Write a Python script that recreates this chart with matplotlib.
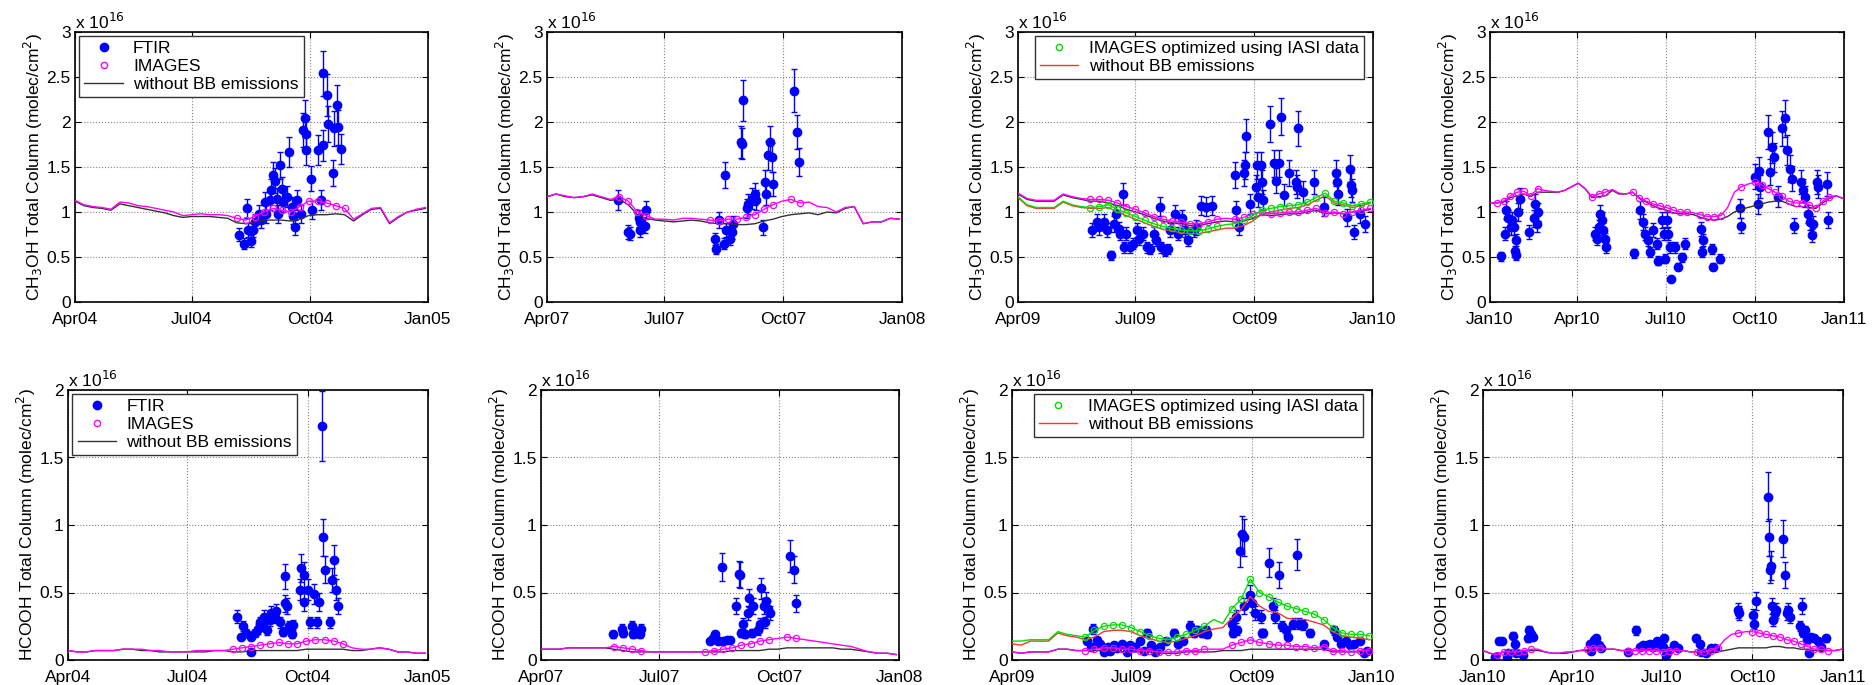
import numpy as np
import matplotlib
matplotlib.use('Agg')
import matplotlib.pyplot as plt
import matplotlib.dates as mdates
from matplotlib.lines import Line2D

plt.rcParams['font.family'] = ['Liberation Sans', 'DejaVu Sans']

# model output every 7 days from the start of each window, units of 1e16 molec/cm2
model_step = 7

# ---------------- CH3OH ----------------
ch3oh_04_day = [128, 132, 134, 135, 137, 139, 140, 143, 145, 148, 149, 152, 153, 154, 156,
                157, 158, 160, 161, 162, 165, 167, 169, 170, 171, 173, 176, 178, 179, 180,
                180, 184, 185, 189, 192, 193, 193, 196, 197, 201, 202, 204, 205, 207]
ch3oh_04_val = [0.75, 0.65, 1.04, 0.80, 0.68, 0.80, 0.89, 0.98, 0.91, 1.11, 0.98, 1.13, 1.24, 1.41, 1.35,
                1.15, 0.98, 1.52, 1.26, 1.11, 1.17, 1.67, 1.06, 0.96, 0.83, 1.13, 0.98, 1.91, 2.04, 1.87,
                1.69, 1.37, 1.02, 1.69, 1.13, 1.74, 2.54, 2.30, 1.98, 1.43, 1.93, 2.19, 1.94, 1.70]
ch3oh_04_images = [1.13, 1.08, 1.06, 1.05, 1.03, 1.11, 1.10, 1.07, 1.06, 1.04,
                   1.02, 1.00, 0.96, 0.97, 0.98, 0.97, 0.97, 0.96, 0.93, 0.91,
                   0.95, 1.00, 1.04, 1.02, 1.00, 1.06, 1.12, 1.12, 1.10, 1.07,
                   1.04, 0.92, 0.98, 1.04, 1.05, 0.88, 0.95, 1.00, 1.03, 1.05]
ch3oh_04_nobb = [1.12, 1.07, 1.05, 1.04, 1.02, 1.09, 1.07, 1.05, 1.03, 1.01,
                 0.99, 0.96, 0.94, 0.95, 0.95, 0.95, 0.94, 0.93, 0.88, 0.87,
                 0.89, 0.91, 0.91, 0.91, 0.90, 0.92, 0.96, 0.97, 0.97, 0.98,
                 0.97, 0.90, 0.97, 1.03, 1.04, 0.87, 0.94, 1.00, 1.02, 1.04]

ch3oh_07_day = [55, 63, 64, 71, 72, 72, 76, 77, 130, 131, 133, 137, 138, 139, 142, 143, 144,
                150, 151, 152, 155, 156, 159, 161, 162, 167, 169, 170, 171, 173, 174, 175,
                191, 194, 195]
ch3oh_07_val = [1.13, 0.78, 0.76, 0.93, 0.80, 0.89, 0.85, 1.02, 0.70, 0.59, 0.91, 0.65, 1.41, 0.80, 0.70, 0.78, 0.87,
                1.78, 1.76, 2.24, 1.04, 1.09, 1.15, 1.20, 1.13, 0.83, 1.33, 1.20, 1.63, 1.78, 1.61, 1.31,
                2.35, 1.89, 1.56]
ch3oh_07_images = [1.17, 1.20, 1.18, 1.16, 1.17, 1.20, 1.17, 1.14, 1.17, 1.12,
                   1.00, 0.96, 0.92, 0.92, 0.91, 0.93, 0.93, 0.92, 0.91, 0.90,
                   0.92, 0.92, 0.94, 0.97, 1.03, 1.08, 1.12, 1.14, 1.10, 1.11,
                   1.06, 1.05, 1.00, 1.05, 1.06, 0.87, 0.89, 0.89, 0.93, 0.92]
ch3oh_07_nobb = [1.17, 1.20, 1.17, 1.16, 1.17, 1.19, 1.16, 1.13, 1.14, 1.08,
                 0.97, 0.93, 0.91, 0.90, 0.89, 0.90, 0.91, 0.90, 0.88, 0.87,
                 0.87, 0.86, 0.86, 0.87, 0.90, 0.92, 0.95, 0.97, 0.98, 0.99,
                 0.97, 1.00, 0.99, 1.04, 1.06, 0.87, 0.89, 0.89, 0.93, 0.92]

ch3oh_09_day = [57, 61, 63, 67, 69, 72, 74, 76, 78, 79, 81, 82, 84, 87, 89, 92, 94, 97, 100, 102,
                105, 107, 110, 111, 114, 116, 118, 122, 124, 127, 129, 132, 136, 138, 142, 146, 150,
                168, 169, 171, 175, 176, 177, 180, 184, 185, 186, 188, 189, 190, 195, 198, 200, 202,
                204, 206, 210, 215, 216, 217, 221, 229, 237, 246, 247, 248, 255, 257, 258, 259, 260,
                265, 269]
ch3oh_09_val = [0.80, 0.89, 0.83, 0.89, 0.80, 0.52, 0.87, 0.98, 0.81, 0.76, 1.20, 0.61, 0.76, 0.61, 0.65, 0.80, 0.70, 0.76, 0.61, 0.59,
                0.76, 0.69, 1.06, 0.61, 0.57, 0.59, 0.80, 0.98, 0.76, 0.93, 0.80, 0.69, 0.80, 0.83, 1.07, 1.06, 1.07,
                1.41, 1.02, 0.83, 1.43, 1.52, 1.85, 1.09, 1.28, 1.52, 1.17, 1.52, 1.33, 1.13, 1.98, 1.54, 1.35, 1.54,
                2.06, 1.19, 1.43, 1.33, 1.28, 1.93, 1.22, 1.33, 1.06, 1.43, 1.33, 1.20, 0.94, 1.48, 1.30, 1.24, 0.78,
                0.98, 0.87]
ch3oh_09_images = [1.21, 1.15, 1.13, 1.13, 1.13, 1.20, 1.17, 1.15, 1.14, 1.14,
                   1.13, 1.10, 1.06, 1.03, 0.99, 0.95, 0.92, 0.90, 0.89, 0.87,
                   0.87, 0.89, 0.92, 0.93, 0.92, 0.94, 0.98, 1.00, 0.98, 0.99,
                   1.00, 1.00, 1.02, 1.04, 0.99, 1.00, 0.98, 1.00, 1.02, 1.04]
ch3oh_09_nobb = [1.20, 1.14, 1.12, 1.12, 1.12, 1.19, 1.16, 1.14, 1.12, 1.12,
                 1.10, 1.07, 1.03, 1.00, 0.97, 0.93, 0.90, 0.88, 0.87, 0.85,
                 0.85, 0.87, 0.89, 0.90, 0.89, 0.90, 0.93, 0.97, 0.96, 0.97,
                 0.98, 0.98, 1.00, 1.02, 0.98, 0.99, 0.98, 1.00, 1.01, 1.03]
ch3oh_09_opt = [1.17, 1.08, 1.05, 1.05, 1.05, 1.12, 1.08, 1.06, 1.05, 1.06,
                1.08, 1.03, 0.99, 0.95, 0.91, 0.87, 0.84, 0.82, 0.80, 0.79,
                0.79, 0.81, 0.84, 0.86, 0.87, 0.91, 0.96, 1.02, 1.04, 1.06,
                1.07, 1.08, 1.11, 1.16, 1.21, 1.12, 1.10, 1.07, 1.09, 1.11]
ch3oh_09_opt_nobb = [1.16, 1.07, 1.04, 1.04, 1.04, 1.11, 1.07, 1.05, 1.04, 1.04,
                     1.05, 1.00, 0.96, 0.92, 0.88, 0.84, 0.81, 0.79, 0.77, 0.76,
                     0.76, 0.78, 0.80, 0.82, 0.82, 0.85, 0.90, 0.98, 1.00, 1.02,
                     1.04, 1.05, 1.08, 1.13, 1.18, 1.10, 1.08, 1.05, 1.07, 1.10]

ch3oh_10_day = [11, 15, 17, 19, 22, 23, 25, 26, 27, 27, 29, 31, 40, 45, 46, 48, 50,
                108, 110, 112, 113, 115, 117, 119, 120, 148, 155, 158, 160, 163, 165, 168, 172,
                173, 177, 179, 180, 182, 184, 186, 187, 191, 194, 198, 201, 218, 219, 220, 229,
                230, 237, 258, 259, 273, 277, 276, 278, 287, 289, 291, 293, 297, 301, 304, 306,
                309, 311, 313, 321, 323, 325, 328, 330, 332, 333, 337, 338, 347, 348]
ch3oh_10_val = [0.51, 0.76, 1.02, 0.93, 0.83, 0.91, 0.83, 0.57, 0.52, 0.69, 1.00, 1.15, 0.78, 0.93, 1.09, 0.87, 1.00,
                0.76, 0.70, 0.83, 0.98, 0.91, 0.80, 0.70, 0.61, 0.54, 1.02, 0.89, 0.76, 0.69, 0.56, 0.80, 0.65,
                0.46, 0.91, 0.76, 0.48, 0.91, 0.76, 0.61, 0.26, 0.61, 0.39, 0.50, 0.65, 0.81, 0.56, 0.69, 0.59,
                0.39, 0.48, 1.04, 0.85, 1.39, 1.46, 1.09, 1.28, 1.89, 1.44, 1.72, 1.61, 1.17, 1.93, 2.04, 1.69,
                1.48, 1.37, 0.85, 1.33, 1.24, 1.17, 0.98, 0.89, 0.74, 0.87, 1.33, 1.28, 1.31, 0.91]
ch3oh_10_images = [1.10, 1.10, 1.12, 1.18, 1.22, 1.23, 1.18, 1.26, 1.24, 1.23,
                   1.22, 1.24, 1.28, 1.32, 1.26, 1.17, 1.20, 1.22, 1.25, 1.21,
                   1.20, 1.22, 1.16, 1.12, 1.09, 1.07, 1.05, 1.02, 1.00, 1.00,
                   0.99, 0.97, 0.95, 0.95, 0.96, 1.05, 1.22, 1.28, 1.31, 1.33,
                   1.30, 1.26, 1.22, 1.18, 1.12, 1.10, 1.10, 1.08, 1.05, 1.12,
                   1.17, 1.18, 1.15]
ch3oh_10_nobb = [1.10, 1.10, 1.11, 1.16, 1.18, 1.20, 1.17, 1.22, 1.22, 1.22,
                 1.22, 1.24, 1.28, 1.32, 1.26, 1.16, 1.17, 1.18, 1.24, 1.20,
                 1.20, 1.22, 1.15, 1.11, 1.07, 1.04, 1.02, 0.99, 0.98, 0.98,
                 0.97, 0.94, 0.92, 0.91, 0.92, 0.95, 1.00, 1.03, 1.05, 1.07,
                 1.09, 1.11, 1.12, 1.12, 1.09, 1.06, 1.06, 1.05, 1.04, 1.10,
                 1.15, 1.18, 1.15]

# ---------------- HCOOH ----------------
hcooh_04_day = [129, 132, 134, 136, 140, 140, 143, 145, 147, 149, 150, 152, 154, 155, 158, 159,
                162, 164, 166, 166, 167, 169, 171, 172, 177, 178, 180, 180, 183, 185, 188, 190,
                192, 194, 195, 196, 200, 202, 203, 205, 206]
hcooh_04_val = [0.32, 0.17, 0.25, 0.20, 0.06, 0.17, 0.20, 0.23, 0.28, 0.26, 0.32, 0.22, 0.30, 0.35, 0.32, 0.36,
                0.28, 0.21, 0.42, 0.62, 0.40, 0.25, 0.19, 0.26, 0.52, 0.68, 0.43, 0.63, 0.52, 0.28, 0.49, 0.28,
                0.43, 1.73, 0.91, 0.67, 0.28, 0.59, 0.74, 0.52, 0.40]
hcooh_04_images = [0.07, 0.06, 0.06, 0.07, 0.07, 0.07, 0.08, 0.08, 0.08, 0.07,
                   0.07, 0.06, 0.06, 0.06, 0.07, 0.07, 0.07, 0.07, 0.08, 0.09,
                   0.10, 0.11, 0.12, 0.13, 0.12, 0.12, 0.14, 0.15, 0.15, 0.14,
                   0.12, 0.09, 0.08, 0.08, 0.09, 0.08, 0.06, 0.06, 0.05, 0.05]
hcooh_04_nobb = [0.07, 0.06, 0.06, 0.07, 0.07, 0.07, 0.08, 0.08, 0.07, 0.07,
                 0.06, 0.06, 0.06, 0.06, 0.06, 0.06, 0.07, 0.07, 0.06, 0.06,
                 0.07, 0.07, 0.07, 0.07, 0.07, 0.07, 0.08, 0.08, 0.08, 0.08,
                 0.08, 0.07, 0.07, 0.08, 0.09, 0.08, 0.06, 0.06, 0.05, 0.05]

hcooh_07_day = [55, 62, 63, 70, 71, 73, 76, 77, 130, 132, 134, 135, 136, 139, 140, 143, 145,
                150, 152, 153, 154, 155, 157, 159, 160, 162, 163, 167, 168, 169, 171, 172, 173,
                174, 176, 191, 194, 196]
hcooh_07_val = [0.19, 0.23, 0.20, 0.25, 0.19, 0.20, 0.19, 0.23, 0.14, 0.16, 0.19, 0.15, 0.14, 0.69, 0.14, 0.15, 0.15,
                0.40, 0.64, 0.63, 0.20, 0.27, 0.19, 0.35, 0.46, 0.20, 0.40, 0.22, 0.27, 0.53, 0.40, 0.28, 0.44,
                0.38, 0.35, 0.77, 0.67, 0.42]
hcooh_07_images = [0.08, 0.08, 0.08, 0.09, 0.09, 0.09, 0.09, 0.09, 0.10, 0.09,
                   0.08, 0.07, 0.06, 0.06, 0.06, 0.06, 0.06, 0.06, 0.06, 0.07,
                   0.08, 0.09, 0.11, 0.12, 0.14, 0.15, 0.16, 0.17, 0.16, 0.15,
                   0.14, 0.13, 0.12, 0.11, 0.10, 0.08, 0.06, 0.05, 0.05, 0.04]
hcooh_07_nobb = [0.08, 0.08, 0.08, 0.09, 0.09, 0.09, 0.09, 0.09, 0.08, 0.07,
                 0.06, 0.06, 0.06, 0.06, 0.06, 0.06, 0.06, 0.06, 0.06, 0.06,
                 0.06, 0.07, 0.07, 0.07, 0.07, 0.08, 0.08, 0.09, 0.09, 0.09,
                 0.09, 0.09, 0.09, 0.08, 0.08, 0.07, 0.06, 0.05, 0.05, 0.04]

hcooh_09_day = [57, 60, 62, 65, 67, 70, 73, 75, 78, 80, 84, 88, 90, 94, 98, 101, 103, 106, 109,
                113, 118, 124, 127, 131, 136, 139, 141, 145, 148, 149, 168, 169, 171, 172, 174,
                176, 177, 177, 182, 183, 186, 190, 191, 192, 196, 199, 201, 204, 206, 209, 211,
                215, 218, 219, 222, 228, 238, 246, 248, 251, 255, 258, 261, 266, 269, 271]
hcooh_09_val = [0.14, 0.10, 0.23, 0.15, 0.12, 0.06, 0.10, 0.07, 0.11, 0.09, 0.12, 0.06, 0.11, 0.10, 0.14, 0.07, 0.20, 0.11, 0.06,
                0.10, 0.14, 0.20, 0.12, 0.14, 0.25, 0.20, 0.22, 0.20, 0.22, 0.19, 0.27, 0.20, 0.32, 0.22, 0.81,
                0.93, 0.91, 0.40, 0.48, 0.42, 0.35, 0.32, 0.20, 0.20, 0.72, 0.40, 0.32, 0.63, 0.25, 0.22, 0.17,
                0.27, 0.78, 0.27, 0.26, 0.20, 0.12, 0.22, 0.17, 0.12, 0.14, 0.11, 0.12, 0.14, 0.05, 0.07]
hcooh_09_images = [0.06, 0.05, 0.06, 0.06, 0.06, 0.08, 0.08, 0.07, 0.07, 0.08,
                   0.09, 0.09, 0.08, 0.08, 0.07, 0.07, 0.06, 0.06, 0.06, 0.07,
                   0.07, 0.08, 0.08, 0.08, 0.11, 0.13, 0.15, 0.13, 0.12, 0.11,
                   0.11, 0.10, 0.10, 0.09, 0.10, 0.07, 0.07, 0.06, 0.07, 0.07]
hcooh_09_nobb = [0.06, 0.05, 0.06, 0.06, 0.06, 0.08, 0.08, 0.07, 0.07, 0.07,
                 0.07, 0.07, 0.06, 0.06, 0.06, 0.06, 0.05, 0.05, 0.05, 0.06,
                 0.06, 0.06, 0.06, 0.07, 0.07, 0.07, 0.08, 0.08, 0.08, 0.08,
                 0.08, 0.08, 0.08, 0.08, 0.08, 0.06, 0.06, 0.06, 0.06, 0.07]
hcooh_09_opt = [0.14, 0.14, 0.15, 0.15, 0.15, 0.21, 0.19, 0.18, 0.17, 0.22,
                0.25, 0.26, 0.26, 0.24, 0.21, 0.18, 0.16, 0.15, 0.17, 0.19,
                0.22, 0.25, 0.30, 0.27, 0.38, 0.45, 0.60, 0.50, 0.47, 0.43,
                0.40, 0.38, 0.36, 0.34, 0.30, 0.24, 0.20, 0.19, 0.19, 0.18]
hcooh_09_opt_nobb = [0.12, 0.11, 0.14, 0.14, 0.14, 0.20, 0.18, 0.17, 0.15, 0.17,
                     0.21, 0.22, 0.22, 0.21, 0.18, 0.16, 0.14, 0.13, 0.14, 0.16,
                     0.18, 0.21, 0.23, 0.24, 0.31, 0.37, 0.47, 0.40, 0.36, 0.35,
                     0.31, 0.30, 0.30, 0.28, 0.26, 0.21, 0.18, 0.17, 0.16, 0.15]

hcooh_10_day = [12, 16, 19, 24, 25, 30, 32, 33, 41, 46, 47, 49, 51, 108, 110, 113, 115, 118, 120,
                147, 155, 159, 162, 166, 169, 172, 176, 179, 182, 184, 186, 188, 194, 198, 216,
                220, 221, 226, 231, 235, 259, 260, 274, 275, 277, 289, 290, 291, 292, 293, 294,
                296, 297, 304, 306, 308, 309, 311, 323, 321, 324, 326, 328, 331, 333, 336, 340,
                343, 348]
hcooh_10_val = [0.02, 0.14, 0.14, 0.02, 0.05, 0.18, 0.12, 0.05, 0.04, 0.16, 0.22, 0.19, 0.17, 0.12, 0.07, 0.15, 0.16, 0.11, 0.09,
                0.06, 0.22, 0.10, 0.11, 0.11, 0.12, 0.10, 0.14, 0.12, 0.10, 0.16, 0.04, 0.07, 0.11, 0.09, 0.16,
                0.12, 0.06, 0.05, 0.09, 0.09, 0.37, 0.35, 0.33, 0.27, 0.44, 1.21, 0.91, 0.67, 0.70, 0.40, 0.30,
                0.35, 0.37, 0.90, 0.63, 0.35, 0.37, 0.32, 0.40, 0.25, 0.20, 0.22, 0.15, 0.05, 0.17, 0.16, 0.14,
                0.10, 0.16]
hcooh_10_images = [0.07, 0.05, 0.04, 0.06, 0.06, 0.06, 0.07, 0.08, 0.08, 0.06,
                   0.05, 0.05, 0.06, 0.06, 0.07, 0.08, 0.09, 0.09, 0.08, 0.08,
                   0.07, 0.07, 0.07, 0.07, 0.07, 0.07, 0.06, 0.07, 0.07, 0.07,
                   0.06, 0.06, 0.06, 0.07, 0.09, 0.15, 0.19, 0.20, 0.21, 0.21,
                   0.20, 0.19, 0.18, 0.17, 0.15, 0.14, 0.12, 0.10, 0.08, 0.08,
                   0.07, 0.07, 0.08]
hcooh_10_nobb = [0.07, 0.05, 0.04, 0.06, 0.06, 0.06, 0.07, 0.07, 0.07, 0.06,
                 0.05, 0.05, 0.05, 0.06, 0.07, 0.07, 0.08, 0.08, 0.08, 0.08,
                 0.07, 0.07, 0.07, 0.07, 0.07, 0.07, 0.07, 0.07, 0.07, 0.07,
                 0.06, 0.06, 0.06, 0.06, 0.06, 0.07, 0.08, 0.09, 0.09, 0.09,
                 0.09, 0.09, 0.10, 0.10, 0.09, 0.09, 0.08, 0.08, 0.07, 0.07,
                 0.07, 0.07, 0.08]

# relative FTIR uncertainty
ch3oh_err = 0.10
hcooh_err = 0.15

windows = [('2004-04-01', '2005-01-01'), ('2007-04-01', '2008-01-01'),
           ('2009-04-01', '2010-01-01'), ('2010-01-01', '2011-01-01')]

ch3oh_label = r'CH$_3$OH Total Column (molec/cm$^2$)'
hcooh_label = r'HCOOH Total Column (molec/cm$^2$)'

ftir_color = '#0000ff'
images_color = '#ff00ff'
nobb_color = '#333333'
opt_color = '#00e000'
opt_nobb_color = '#ff3333'

fs = 12.5


def dates(start, days):
    return np.datetime64(start) + np.asarray(days).astype('timedelta64[D]')


def near_obs(model_days, obs_days):
    obs = np.asarray(obs_days)
    return [i for i, d in enumerate(model_days) if np.min(np.abs(obs - d)) <= 4]


def panel(ax, win, fday, fval, err, images, nobb, ymax, ylabel, opt=None, opt_nobb=None, legend=None):
    start, end = win
    t = dates(start, fday)
    v = np.asarray(fval)
    ax.errorbar(t, v, yerr=err * v, fmt='o', color=ftir_color, ms=6, elinewidth=1,
                capsize=2, zorder=2)
    mdays = np.arange(len(images)) * model_step
    mt = dates(start, mdays)
    marks = near_obs(mdays, fday)
    ax.plot(mt, nobb, color=nobb_color, lw=1, zorder=3)
    ax.plot(mt, images, color=images_color, lw=1, marker='o', ms=4.5, mfc='none', mew=0.9,
            markevery=marks, zorder=4)
    if opt is not None:
        ax.plot(mt, opt_nobb, color=opt_nobb_color, lw=1, zorder=3)
        ax.plot(mt, opt, color=opt_color, lw=1, marker='o', ms=4.5, mfc='none', mew=0.9,
                markevery=marks, zorder=4)

    ax.set_xlim(np.datetime64(start), np.datetime64(end))
    ax.set_ylim(0, ymax)
    ticks = np.arange(0, ymax + 0.01, 0.5)
    ax.set_yticks(ticks)
    ax.set_yticklabels(['%g' % y for y in ticks])
    ax.xaxis.set_major_locator(mdates.MonthLocator(bymonth=[1, 4, 7, 10]))
    ax.xaxis.set_major_formatter(mdates.DateFormatter('%b%y'))
    ax.tick_params(direction='in', top=True, right=True, labelsize=fs, length=4, pad=3)
    ax.tick_params(axis='x', pad=7)
    ax.grid(True, ls=':', color='#888888', lw=0.8)
    for s in ax.spines.values():
        s.set_linewidth(1.2)
    ax.set_ylabel(ylabel, fontsize=12.5, labelpad=1)
    ax.text(0.0, 1.0, r'x 10$^{16}$', transform=ax.transAxes, ha='left', va='bottom', fontsize=fs)

    if legend == 'a':
        h = [Line2D([], [], ls='none', marker='o', color=ftir_color, ms=6),
             Line2D([], [], ls='none', marker='o', color=images_color, mfc='none', ms=4.5),
             Line2D([], [], color=nobb_color, lw=1)]
        lab = ['FTIR', 'IMAGES', 'without BB emissions']
        ax.legend(h, lab, loc='upper left', bbox_to_anchor=(0.012, 0.985), borderaxespad=0,
                  fancybox=False, edgecolor='#333333', framealpha=1, fontsize=fs,
                  handlelength=2.2, labelspacing=0.15, borderpad=0.3, handletextpad=0.6)
    elif legend == 'b':
        h = [Line2D([], [], ls='none', marker='o', color=opt_color, mfc='none', ms=4.5),
             Line2D([], [], color=opt_nobb_color, lw=1)]
        lab = ['IMAGES optimized using IASI data', 'without BB emissions']
        ax.legend(h, lab, loc='upper right', bbox_to_anchor=(0.975, 0.985), borderaxespad=0,
                  fancybox=False, edgecolor='#333333', framealpha=1, fontsize=fs,
                  handlelength=2.2, labelspacing=0.15, borderpad=0.3, handletextpad=0.6)


fig = plt.figure(figsize=(18.72, 6.85), dpi=100)
W, H = 1872.0, 685.0

top_left = [75, 547, 1018, 1490]
top_width = [353, 355, 355, 354]
bot_left = [68, 541, 1012, 1483]
bot_width = [360, 358, 360, 360]

top_axes = [fig.add_axes([l / W, 1 - 302 / H, w / W, 270 / H]) for l, w in zip(top_left, top_width)]
bot_axes = [fig.add_axes([l / W, 1 - 660 / H, w / W, 270 / H]) for l, w in zip(bot_left, bot_width)]

panel(top_axes[0], windows[0], ch3oh_04_day, ch3oh_04_val, ch3oh_err, ch3oh_04_images, ch3oh_04_nobb,
      3, ch3oh_label, legend='a')
panel(top_axes[1], windows[1], ch3oh_07_day, ch3oh_07_val, ch3oh_err, ch3oh_07_images, ch3oh_07_nobb,
      3, ch3oh_label)
panel(top_axes[2], windows[2], ch3oh_09_day, ch3oh_09_val, ch3oh_err, ch3oh_09_images, ch3oh_09_nobb,
      3, ch3oh_label, opt=ch3oh_09_opt, opt_nobb=ch3oh_09_opt_nobb, legend='b')
panel(top_axes[3], windows[3], ch3oh_10_day, ch3oh_10_val, ch3oh_err, ch3oh_10_images, ch3oh_10_nobb,
      3, ch3oh_label)

panel(bot_axes[0], windows[0], hcooh_04_day, hcooh_04_val, hcooh_err, hcooh_04_images, hcooh_04_nobb,
      2, hcooh_label, legend='a')
panel(bot_axes[1], windows[1], hcooh_07_day, hcooh_07_val, hcooh_err, hcooh_07_images, hcooh_07_nobb,
      2, hcooh_label)
panel(bot_axes[2], windows[2], hcooh_09_day, hcooh_09_val, hcooh_err, hcooh_09_images, hcooh_09_nobb,
      2, hcooh_label, opt=hcooh_09_opt, opt_nobb=hcooh_09_opt_nobb, legend='b')
panel(bot_axes[3], windows[3], hcooh_10_day, hcooh_10_val, hcooh_err, hcooh_10_images, hcooh_10_nobb,
      2, hcooh_label)

fig.savefig('out.png', dpi=100)
